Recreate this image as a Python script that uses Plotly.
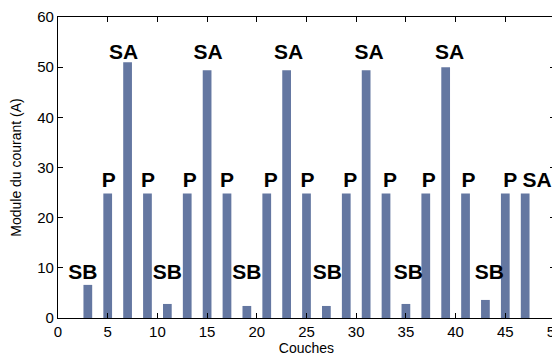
import plotly.graph_objects as go

# Data
couches = [3, 5, 7, 9, 11, 13, 15, 17, 19, 21, 23, 25, 27, 29, 31, 33, 35, 37, 39, 41, 43, 45, 47]
courant = [6.6, 24.8, 51.0, 24.8, 2.8, 24.8, 49.4, 24.8, 2.4, 24.8, 49.4, 24.8,
           2.4, 24.8, 49.4, 24.8, 2.8, 24.8, 50.0, 24.8, 3.6, 24.8, 24.8]

label_text = ["SB", "P", "SA", "P", "SB", "P", "SA", "P", "SB", "P", "SA", "P",
              "SB", "P", "SA", "P", "SB", "P", "SA", "P", "SB", "P", "SA"]
label_x = [2.5, 5.1, 6.6, 9.05, 11.0, 13.25, 15.1, 17.0, 19.0, 21.4, 23.2, 25.1,
           27.1, 29.4, 31.3, 33.4, 35.25, 37.3, 39.4, 41.3, 43.4, 45.5, 48.2]
label_y = [8.8, 27.2, 52.6, 27.2, 8.8, 27.2, 52.6, 27.2, 8.8, 27.2, 52.6, 27.2,
           8.8, 27.2, 52.6, 27.2, 8.8, 27.2, 52.6, 27.2, 8.8, 27.2, 27.2]

x_ticks = [0, 5, 10, 15, 20, 25, 30, 35, 40, 45, 50]
y_ticks = [0, 10, 20, 30, 40, 50, 60]

FONT = "Liberation Sans, Arial, Helvetica, sans-serif"

fig = go.Figure()
fig.add_trace(go.Bar(
    x=couches, y=courant, width=0.88,
    marker=dict(color="rgb(100,119,161)", line=dict(width=0)),
    showlegend=False, hoverinfo="skip",
))
fig.add_trace(go.Scatter(
    x=label_x, y=label_y, mode="text", text=label_text,
    textposition="middle center",
    textfont=dict(family=FONT, size=21, color="black", weight="bold"),
    showlegend=False, hoverinfo="skip", cliponaxis=False,
))

axis_common = dict(
    showline=True, linecolor="black", linewidth=1.2, mirror="allticks",
    ticks="inside", ticklen=5, tickcolor="black", tickwidth=1,
    showgrid=False, zeroline=False,
    tickfont=dict(family=FONT, size=15, color="black"),
)

fig.update_layout(
    width=560, height=358,
    margin=dict(l=50, r=13, t=9, b=48, autoexpand=False),
    paper_bgcolor="white", plot_bgcolor="white",
    xaxis=dict(range=[0, 50], tickvals=x_ticks, automargin=False,
               title=dict(text="Couches", font=dict(family=FONT, size=14, color="black"), standoff=4),
               **axis_common),
    yaxis=dict(range=[0, 60], tickvals=y_ticks, automargin=False,
               title=dict(text="Module du courant (A)", font=dict(family=FONT, size=14, color="black"), standoff=18),
               **axis_common),
)

fig.write_html("out.html")
